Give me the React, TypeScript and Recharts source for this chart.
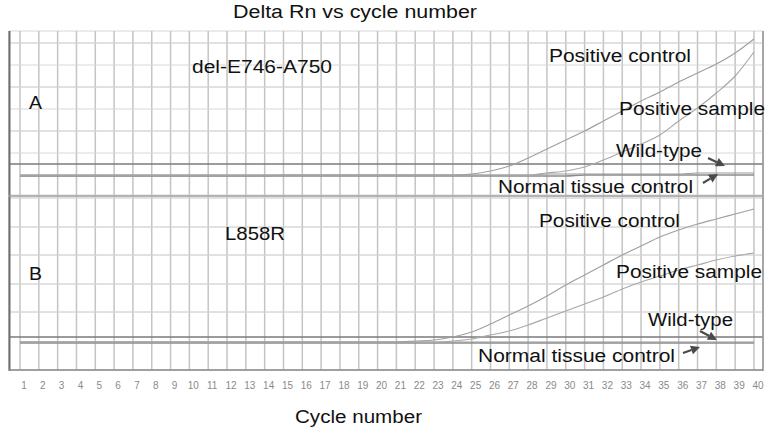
import { LineChart, Line, XAxis, YAxis, CartesianGrid, ReferenceLine } from "recharts";

const cycles = [1, 2, 3, 4, 5, 6, 7, 8, 9, 10, 11, 12, 13, 14, 15, 16, 17, 18, 19, 20, 21, 22, 23, 24, 25, 26, 27, 28, 29, 30, 31, 32, 33, 34, 35, 36, 37, 38, 39, 40];

// panel A: del-E746-A750 (Delta Rn)
const posControlA = [0, 0, 0, 0, 0, 0, 0, 0, 0, 0, 0, 0, 0, 0, 0, 0, 0, 0, 0, 0, 0, 0, 0, 0, 0.01, 0.04, 0.09, 0.17, 0.26, 0.35, 0.44, 0.54, 0.64, 0.74, 0.83, 0.93, 1.02, 1.11, 1.22, 1.36];
const posSampleA = [0, 0, 0, 0, 0, 0, 0, 0, 0, 0, 0, 0, 0, 0, 0, 0, 0, 0, 0, 0, 0, 0, 0, 0, 0, 0, 0, 0, 0.02, 0.04, 0.08, 0.15, 0.23, 0.31, 0.4, 0.54, 0.67, 0.82, 0.99, 1.23];
const wildTypeA = [-0.01, -0.01, -0.01, -0.01, -0.01, -0.01, -0.01, -0.01, -0.01, -0.01, -0.01, -0.01, -0.01, -0.01, 0, 0, 0, 0, 0, 0, 0, 0, 0, 0, 0, 0, 0, 0, 0.01, 0.01, 0.01, 0.01, 0.01, 0.01, 0.01, 0.01, 0.02, 0.02, 0.02, 0.02];
const normalA = [-0.01, -0.01, -0.01, -0.01, -0.01, -0.01, -0.01, -0.01, -0.01, -0.01, -0.01, -0.01, -0.01, -0.01, -0.01, -0.01, -0.01, -0.01, -0.01, -0.01, -0.01, -0.01, -0.01, -0.01, -0.01, -0.01, -0.01, -0.01, -0.01, -0.01, 0, 0, 0, 0, 0, 0, 0, 0, 0, 0];
const thresholdA = 0.11;

// panel B: L858R
const posControlB = [0, 0, 0, 0, 0, 0, 0, 0, 0, 0, 0, 0, 0, 0, 0, 0, 0, 0, 0, 0, 0, 0.01, 0.02, 0.05, 0.1, 0.18, 0.27, 0.36, 0.46, 0.57, 0.67, 0.77, 0.87, 0.96, 1.05, 1.12, 1.18, 1.23, 1.28, 1.33];
const posSampleB = [0, 0, 0, 0, 0, 0, 0, 0, 0, 0, 0, 0, 0, 0, 0, 0, 0, 0, 0, 0, 0, 0, 0, 0.01, 0.03, 0.07, 0.11, 0.17, 0.24, 0.31, 0.38, 0.45, 0.53, 0.6, 0.66, 0.72, 0.77, 0.82, 0.86, 0.89];
const wildTypeB = [0, 0, 0, 0, 0, 0, 0, 0, 0, 0, 0, 0, 0, 0, 0, 0, 0, 0, 0, 0, 0, 0, 0, 0, 0, 0, 0, 0, 0, 0, 0, 0, 0, 0, 0, 0, 0, 0, 0, 0];
const normalB = [-0.01, -0.01, -0.01, -0.01, -0.01, -0.01, -0.01, -0.01, -0.01, -0.01, -0.01, -0.01, -0.01, -0.01, -0.01, -0.01, -0.01, -0.01, -0.01, -0.01, -0.01, -0.01, -0.01, -0.01, -0.01, -0.01, -0.01, -0.01, -0.01, -0.01, -0.01, -0.01, -0.01, -0.01, -0.01, -0.01, -0.01, -0.01, -0.01, -0.01];
const thresholdB = 0.05;

// faint horizontal grid levels
const gridA = [0.22, 0.44, 0.66, 0.88, 1.1, 1.32];
const gridB = [0.3, 0.58, 0.87, 1.15, 1.44];

const dataA = cycles.map((c, i) => ({ cycle: c, pc: posControlA[i], ps: posSampleA[i], wt: wildTypeA[i], nt: normalA[i] }));
const dataB = cycles.map((c, i) => ({ cycle: c, pc: posControlB[i], ps: posSampleB[i], wt: wildTypeB[i], nt: normalB[i] }));

const xDomain = [0.415, 40.48];
const FONT = "'Liberation Sans', Arial, sans-serif";

const Arrow = (props: any) => {
  const { x1, y1, x2, y2 } = props;
  const a = Math.atan2(y2 - y1, x2 - x1);
  const bx = x2 - 9 * Math.cos(a);
  const by = y2 - 9 * Math.sin(a);
  const px = -Math.sin(a) * 4.5;
  const py = Math.cos(a) * 4.5;
  return (
    <g>
      <line x1={x1} y1={y1} x2={bx} y2={by} stroke="#4a4a4a" strokeWidth={2.2} />
      <polygon points={`${x2},${y2} ${bx + px},${by + py} ${bx - px},${by - py}`} fill="#4a4a4a" />
    </g>
  );
};

function Panel({ data, domain, grid, threshold, arrows, showAxis }: any) {
  return (
    <LineChart
      width={771}
      height={showAxis ? 235 : 195}
      data={data}
      margin={showAxis ? { top: 1, right: 8, bottom: 30, left: 9 } : { top: 31, right: 8, bottom: 0, left: 9 }}
    >
      <XAxis
        dataKey="cycle"
        type="number"
        domain={xDomain}
        ticks={cycles}
        allowDataOverflow
        hide={!showAxis}
        height={30}
        axisLine={false}
        tickLine={false}
        tickSize={0}
        tickMargin={12}
        interval={0}
        tick={{ fontSize: 10, fill: "#8a8a8a", dx: 4, fontFamily: "'Liberation Sans Narrow', 'Liberation Sans', Arial" }}
      />
      <YAxis hide type="number" domain={domain} ticks={grid} allowDataOverflow />
      <CartesianGrid stroke="#d6d6d6" strokeWidth={1} vertical={false} horizontalPoints={undefined} />
      <CartesianGrid stroke="#c4c4c4" strokeWidth={1.5} horizontal={false} />
      {grid.map((g: number) => (
        <ReferenceLine key={"g" + g} y={g} stroke="#d8d8d8" strokeWidth={1} ifOverflow="visible" />
      ))}
      <ReferenceLine y={threshold} stroke="#7a7a7a" strokeWidth={1.5} ifOverflow="visible" />
      <Line type="monotone" dataKey="nt" stroke="#8c8c8c" strokeWidth={1.3} dot={false} isAnimationActive={false} />
      <Line type="monotone" dataKey="wt" stroke="#9a9a9a" strokeWidth={1.2} dot={false} isAnimationActive={false} />
      <Line type="monotone" dataKey="ps" stroke="#a8a8a8" strokeWidth={1.2} dot={false} isAnimationActive={false} />
      <Line type="monotone" dataKey="pc" stroke="#a0a0a0" strokeWidth={1.2} dot={false} isAnimationActive={false} />
      {arrows.map((s: any, i: number) => (
        <ReferenceLine key={i} segment={s} ifOverflow="visible" shape={Arrow} />
      ))}
    </LineChart>
  );
}

const arrowsA = [
  [{ x: 37.56, y: 0.17 }, { x: 38.46, y: 0.09 }],
  [{ x: 37.29, y: -0.08 }, { x: 38.09, y: 0.01 }],
];
const arrowsB = [
  [{ x: 37.13, y: 0.11 }, { x: 38.03, y: 0.02 }],
  [{ x: 36.23, y: -0.11 }, { x: 37.13, y: -0.05 }],
];

const Note = ({ x, y, w, children }: any) => (
  <text x={x} y={y} textLength={w} lengthAdjust="spacingAndGlyphs" fontSize={18} fontFamily={FONT} fill="#111">
    {children}
  </text>
);

export default function App() {
  return (
    <div style={{ position: "absolute", left: 0, top: 0, width: 771, height: 430, background: "#fff", overflow: "hidden" }}>
      <div style={{ position: "absolute", left: 0, top: 0 }}>
        <Panel data={dataA} domain={[-0.2, 1.44]} grid={gridA} threshold={thresholdA} arrows={arrowsA} showAxis={false} />
      </div>
      <div style={{ position: "absolute", left: 0, top: 195 }}>
        <Panel data={dataB} domain={[-0.28, 1.46]} grid={gridB} threshold={thresholdB} arrows={arrowsB} showAxis />
      </div>
      <svg width={771} height={430} style={{ position: "absolute", left: 0, top: 0, pointerEvents: "none" }}>
        <line x1={9.5} y1={31} x2={9.5} y2={371} stroke="#707070" strokeWidth={2} />
        <line x1={763} y1={31} x2={763} y2={371} stroke="#999" strokeWidth={1.5} />
        <line x1={9} y1={370} x2={763} y2={370} stroke="#888" strokeWidth={1.5} />
        <line x1={9} y1={196} x2={763} y2={196} stroke="#a0a0a0" strokeWidth={1.5} />
        <Note x={233} y={18} w={244}>Delta Rn vs cycle number</Note>
        <Note x={192} y={73} w={140}>del-E746-A750</Note>
        <Note x={29} y={109} w={13}>A</Note>
        <Note x={549} y={62} w={142}>Positive control</Note>
        <Note x={619} y={115} w={146}>Positive sample</Note>
        <Note x={616} y={157} w={86}>Wild-type</Note>
        <Note x={498} y={193} w={195}>Normal tissue control</Note>
        <Note x={225} y={240} w={60}>L858R</Note>
        <Note x={29} y={280} w={13}>B</Note>
        <Note x={539} y={227} w={141}>Positive control</Note>
        <Note x={616} y={278} w={146}>Positive sample</Note>
        <Note x={648} y={326} w={85}>Wild-type</Note>
        <Note x={478} y={362} w={197}>Normal tissue control</Note>
        <Note x={295} y={423} w={127}>Cycle number</Note>
      </svg>
    </div>
  );
}
